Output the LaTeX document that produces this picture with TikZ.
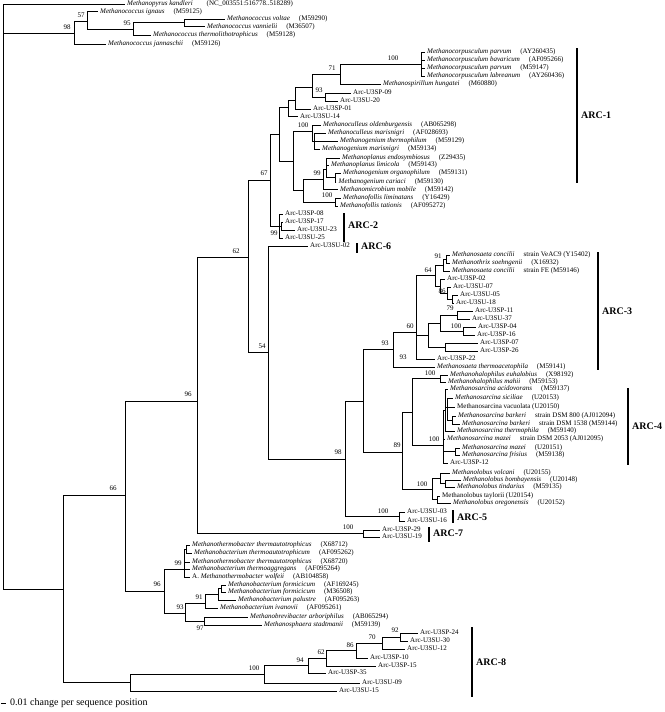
\documentclass[tikz,border=0pt]{standalone}
\usepackage{fontspec}
\setmainfont{Liberation Serif}
\newcounter{bsc}
\newcommand\spc[2]{\textit{#1}\hspace{9pt}(#2)}
\begin{document}
\begin{tikzpicture}[x=1pt,y=-1pt,
  br/.style={line width=0.8pt,line cap=rect},
  leaf/.style={anchor=west,inner sep=0pt,font=\fontsize{7}{8}\selectfont,text height=4.8pt,text depth=1.4pt},
  bsl/.style={inner sep=0pt,font=\fontsize{7}{8}\selectfont},
  arcbar/.style={line width=2pt},
  arclab/.style={anchor=west,inner sep=0pt,font=\fontsize{10}{11}\selectfont\bfseries}]
\newcommand\vb[3]{\draw[br] (#1,#2) -- (#1,#3);}
\newcommand\hb[3]{\draw[br] (#1,#3) -- (#2,#3);}
\newcommand\leafx[5]{\node[leaf] (#1) at (#3,#4) {#5}; \draw[br] (#2,#4) -- ([xshift=-2.5pt]#1.west);}
\newcommand\bsv[3]{\stepcounter{bsc}\node[bsl] (bs\thebsc) at (#1,#2) {#3};}
\newcommand\arc[5]{\draw[arcbar] (#2,#3) -- (#2,#4); \node[arclab] (#1) at (#2+4,#5) {#1};}
\path[use as bounding box] (0,0) rectangle (664,712);
% root
\vb{3}{4}{589}
\leafx{mka}{3}{127}{4}{\textit{Methanopyrus kandleri}\hspace{14pt}(NC\_003551:516778..518289)}
\hb{3}{74}{33}\bsv{67}{27}{98}
\vb{74}{21}{44}
\hb{74}{87}{21}\bsv{81}{15}{57}
\vb{87}{11.5}{29}
\leafx{mig}{87}{100}{11.5}{\spc{Methanococcus ignaus}{M59125}}
\hb{87}{133}{29}\bsv{127}{23}{95}
\vb{133}{22.5}{35}
\hb{133}{184}{22.5}
\vb{184}{19}{26.5}
\leafx{mvo}{184}{227}{19}{\spc{Methanococcus voltae}{M59290}}
\leafx{mva}{184}{207}{26.5}{\spc{Methanococcus vannielii}{M36507}}
\leafx{mth}{133}{153}{35}{\spc{Methanococcus thermolithotrophicus}{M59128}}
\leafx{mja}{74}{108}{44}{\spc{Methanococcus jannaschii}{M59126}}
% main clade
\hb{3}{63}{589}
\vb{63}{495}{682.5}
\hb{63}{125}{495}\bsv{113}{488}{66}
\vb{125}{401}{591}
\hb{125}{197}{401}\bsv{188}{394}{96}
\vb{197}{257}{533.5}
\hb{197}{248}{257}\bsv{236}{251}{62}
\vb{248}{180}{352}
\hb{248}{270}{180}\bsv{264}{173}{67}
\vb{270}{134}{226}
\hb{270}{279}{134}
\vb{279}{107}{161}
\hb{279}{288}{107}
\vb{288}{100}{116.5}
\leafx{u14}{288}{300}{116.5}{Arc-U3SU-14}
\hb{288}{295}{100}
\vb{295}{87}{109}
\leafx{p01}{295}{313}{109}{Arc-U3SP-01}
\hb{295}{312}{87}
\vb{312}{74}{97}
\hb{312}{325}{97}\bsv{319}{90}{93}
\vb{325}{93}{101}
\leafx{p09}{325}{353}{93}{Arc-U3SP-09}
\leafx{u20}{325}{340}{101}{Arc-U3SU-20}
\hb{312}{340}{74}\bsv{332}{68}{71}
\vb{340}{64}{84}
\leafx{mhu}{340}{383}{84}{\spc{Methanospirillum hungatei}{M60880}}
\hb{340}{421}{64}\bsv{393}{58}{100}
\vb{421}{52}{76}
\leafx{cp1}{421}{427}{52}{\spc{Methanocorpusculum parvum}{AY260435}}
\leafx{cba}{421}{427}{60}{\spc{Methanocorpusculum bavaricum}{AF095266}}
\leafx{cp2}{421}{427}{68}{\spc{Methanocorpusculum parvum}{M59147}}
\leafx{cla}{421}{427}{76}{\spc{Methanocorpusculum labreanum}{AY260436}}
\hb{279}{293}{161}
\vb{293}{131}{190.5}
\hb{293}{312}{131}\bsv{303}{125}{100}
\vb{312}{125}{141}
\leafx{mol}{312}{323}{125}{\spc{Methanoculleus oldenburgensis}{AB065298}}
\hb{312}{314}{141}
\vb{314}{133}{149}
\leafx{mcm}{314}{328}{133}{\spc{Methanoculleus marisnigri}{AF028693}}
\leafx{mgt}{314}{340}{141}{\spc{Methanogenium thermophilum}{M59129}}
\leafx{mgm}{314}{322}{149}{\spc{Methanogenium marisnigri}{M59134}}
\hb{293}{303}{190.5}
\vb{303}{179}{202}
\hb{303}{323}{179}\bsv{317}{173}{99}
\vb{323}{169.5}{189.5}
\hb{323}{326}{169.5}
\vb{326}{158}{177.5}
\leafx{mpe}{326}{342}{158}{\spc{Methanoplanus endosymbiosus}{Z29435}}
\leafx{mpl}{326}{331}{165}{\spc{Methanoplanus limicola}{M59143}}
\hb{326}{335}{177.5}
\vb{335}{173}{182}
\leafx{mgo}{335}{343}{173}{\spc{Methanogenium organophilum}{M59131}}
\leafx{mgc}{335}{338.5}{182}{\spc{Methanogenium cariaci}{M59130}}
\leafx{mmo}{323}{340}{189.5}{\spc{Methanomicrobium mobile}{M59142}}
\hb{303}{335}{202}\bsv{327}{195}{100}
\vb{335}{198}{206}
\leafx{mfl}{335}{343}{198}{\spc{Methanofollis liminatans}{Y16429}}
\leafx{mft}{335}{340}{206}{\spc{Methanofollis tationis}{AF095272}}
% ARC-2
\hb{270}{279}{226}\bsv{274}{233}{99}
\vb{279}{214}{238}
\leafx{p08}{279}{285}{214}{Arc-U3SP-08}
\hb{279}{281}{226}
\vb{281}{222}{230}
\leafx{p17}{281}{285}{222}{Arc-U3SP-17}
\leafx{u23}{281}{297}{230}{Arc-U3SU-23}
\leafx{u25}{279}{285}{238}{Arc-U3SU-25}
% 54
\hb{248}{268}{352}\bsv{262}{346}{54}
\vb{268}{246}{459}
\leafx{u02}{268}{310}{246}{Arc-U3SU-02}
\hb{268}{345}{459}\bsv{338}{452}{98}
\vb{345}{401}{516.5}
\hb{345}{363}{401}
\vb{363}{349}{452}
\hb{363}{393}{349}\bsv{385}{343}{93}
\vb{393}{332}{367}
\leafx{mta}{393}{437}{367}{\spc{Methanosaeta thermoacetophila}{M59141}}
\hb{393}{416}{332}\bsv{410}{326}{60}
\vb{416}{275.5}{359}
\leafx{p22}{416}{437}{359}{Arc-U3SP-22}\bsv{403}{357}{93}
\hb{416}{435}{275.5}\bsv{428}{270}{64}
\vb{435}{265}{286}
\hb{435}{443}{265}
\vb{443}{259}{271}
\hb{443}{446}{259}\bsv{438}{256}{91}
\vb{446}{255}{263}
\leafx{sc1}{446}{452}{255}{\textit{Methanosaeta concilii}\hspace{9pt}strain VeAC9 (Y15402)}
\leafx{sso}{446}{452}{263}{\spc{Methanothrix soehngenii}{X16932}}
\leafx{sc2}{443}{452}{271}{\textit{Methanosaeta concilii}\hspace{9pt}strain FE (M59146)}
\hb{435}{440}{286}
\vb{440}{279}{293}
\leafx{p02}{440}{447}{279}{Arc-U3SP-02}
\hb{440}{447}{293}\bsv{442}{291}{86}
\vb{447}{287}{299}
\leafx{u07}{447}{453}{287}{Arc-U3SU-07}
\hb{447}{452}{299}\bsv{450}{308}{79}
\vb{452}{295}{303}
\leafx{u05}{452}{460}{295}{Arc-U3SU-05}
\leafx{u18}{452}{456}{303}{Arc-U3SU-18}
\hb{416}{428}{335}
\vb{428}{323}{347}
\hb{428}{440}{323}
\vb{440}{315}{331}
\hb{440}{457}{315}
\vb{457}{311}{319}
\leafx{p11}{457}{475}{311}{Arc-U3SP-11}
\leafx{u37}{457}{472}{319}{Arc-U3SU-37}
\hb{440}{463}{331}\bsv{456}{326}{100}
\vb{463}{327}{335}
\leafx{p04}{463}{478}{327}{Arc-U3SP-04}
\leafx{p16}{463}{477}{335}{Arc-U3SP-16}
\hb{428}{445}{347}
\vb{445}{343}{351}
\leafx{p07}{445}{480}{343}{Arc-U3SP-07}
\leafx{p26}{445}{480}{351}{Arc-U3SP-26}
% Methanosarcinaceae
\hb{363}{402}{452}\bsv{397}{445}{89}
\vb{402}{412}{489}
\hb{402}{412}{412}
\vb{412}{378.5}{445}
\hb{412}{440}{378.5}\bsv{430}{373}{100}
\vb{440}{375}{382}
\leafx{heu}{440}{450}{375}{\spc{Methanohalophilus euhalobius}{X98192}}
\leafx{hma}{440}{448}{382}{\spc{Methanohalophilus mahii}{M59153}}
\hb{412}{443}{445}\bsv{434}{439}{100}
\vb{443}{410}{463}
\hb{443}{445}{410}
\vb{445}{389}{431}
\leafx{sac}{445}{450}{389}{\spc{Methanosarcina acidovorans}{M59137}}
\hb{445}{447}{407}
\vb{447}{398}{420}
\leafx{ssi}{447}{455}{398}{\spc{Methanosarcina siciliae}{U20153}}
\leafx{sva}{447}{457}{407}{Methanosarcina vacuolata (U20150)}
\hb{447}{452}{420}
\vb{452}{416}{424}
\leafx{sb1}{452}{458}{416}{\textit{Methanosarcina barkeri}\hspace{9pt}strain DSM 800 (AJ012094)}
\leafx{sb2}{452}{462}{424}{\textit{Methanosarcina barkeri}\hspace{9pt}strain DSM 1538 (M59144)}
\leafx{sth}{445}{457}{431}{\spc{Methanosarcina thermophila}{M59140}}
\leafx{sm1}{443}{447}{439}{\textit{Methanosarcina mazei}\hspace{9pt}strain DSM 2053 (AJ012095)}
\hb{443}{455}{451.5}
\vb{455}{448}{455}
\leafx{sm2}{455}{462}{448}{\spc{Methanosarcina mazei}{U20151}}
\leafx{sfr}{455}{462}{455}{\spc{Methanosarcina frisius}{M59138}}
\leafx{p12}{443}{450}{463}{Arc-U3SP-12}
\hb{402}{432}{489}\bsv{422}{484}{100}
\vb{432}{478}{499.5}
\hb{432}{440}{478}
\vb{440}{473}{483.5}
\leafx{lvo}{440}{452}{473}{\spc{Methanolobus volcani}{U20155}}
\hb{440}{445}{483.5}
\vb{445}{480}{487}
\leafx{lbo}{445}{463}{480}{\spc{Methanolobus bombayensis}{U20148}}
\leafx{lti}{445}{457}{487}{\spc{Methanolobus tindarius}{M59135}}
\hb{432}{437}{499.5}
\vb{437}{496}{503}
\leafx{lta}{437}{442}{496}{Methanolobus taylorii (U20154)}
\leafx{lor}{437}{453}{503}{\spc{Methanolobus oregonensis}{U20152}}
% ARC-5
\hb{345}{399}{516.5}\bsv{383}{511}{100}
\vb{399}{512}{521}
\leafx{u03}{399}{407}{512}{Arc-U3SU-03}
\leafx{u16}{399}{407}{521}{Arc-U3SU-16}
% ARC-7
\hb{197}{363}{533.5}\bsv{348}{527}{100}
\vb{363}{530}{537}
\leafx{p29}{363}{382}{530}{Arc-U3SP-29}
\leafx{u19}{363}{382}{537}{Arc-U3SU-19}
% Methanobacteriales
\hb{125}{164}{591}\bsv{157}{584}{96}
\vb{164}{569}{613}
\hb{164}{184}{569}\bsv{178}{563}{99}
\vb{184}{549}{577}
\hb{184}{186}{549}
\vb{186}{545}{553}
\leafx{bt1}{186}{192}{545}{\spc{Methanothermobacter thermautotrophicus}{X68712}}
\leafx{bt2}{186}{194}{553}{\spc{Methanobacterium thermoautotrophicum}{AF095262}}
\leafx{bt3}{184}{192}{562}{\spc{Methanothermobacter thermautotrophicus}{X68720}}
\leafx{bta}{184}{192}{569}{\spc{Methanobacterium thermoaggregans}{AF095264}}
\leafx{bwo}{184}{192}{577}{A. \spc{Methanothermobacter wolfeii}{AB104858}}
\hb{164}{185}{613}\bsv{180}{607}{93}
\vb{185}{603}{621}
\hb{185}{205}{603}\bsv{199}{597}{91}
\vb{205}{594}{608}
\hb{205}{218}{594}
\vb{218}{588}{600}
\hb{218}{221}{588}
\vb{221}{585}{592}
\leafx{bf1}{221}{228}{585}{\spc{Methanobacterium formicicum}{AF169245}}
\leafx{bf2}{221}{228}{592}{\spc{Methanobacterium formicicum}{M36508}}
\leafx{bpa}{218}{238}{600}{\spc{Methanobacterium palustre}{AF095263}}
\leafx{biv}{205}{220}{608}{\spc{Methanobacterium ivanovii}{AF095261}}
\hb{185}{204}{621}\bsv{200}{628}{97}
\vb{204}{617}{625}
\leafx{bar}{204}{250}{617}{\spc{Methanobrevibacter arboriphilus}{AB065294}}
\leafx{bst}{204}{264}{625}{\spc{Methanosphaera stadtmanii}{M59139}}
% ARC-8
\hb{63}{130}{682.5}
\vb{130}{674}{691}
\leafx{u15}{130}{339}{691}{Arc-U3SU-15}
\hb{130}{264}{674}\bsv{254}{668}{100}
\vb{264}{665.5}{683}
\leafx{u09}{264}{362}{683}{Arc-U3SU-09}
\hb{264}{308}{665.5}\bsv{300}{660}{94}
\vb{308}{658}{673}
\leafx{p35}{308}{328}{673}{Arc-U3SP-35}
\hb{308}{326}{658}\bsv{321}{652}{62}
\vb{326}{650.5}{666}
\leafx{p15}{326}{378}{666}{Arc-U3SP-15}
\hb{326}{356}{650.5}\bsv{350}{645}{86}
\vb{356}{643}{658}
\leafx{p10}{356}{370}{658}{Arc-U3SP-10}
\hb{356}{382}{643}\bsv{372}{637}{70}
\vb{382}{637}{649}
\leafx{u12}{382}{407}{649}{Arc-U3SU-12}
\hb{382}{400}{637}\bsv{395}{630}{92}
\vb{400}{633}{641}
\leafx{p24}{400}{420}{633}{Arc-U3SP-24}
\leafx{u30}{400}{410}{641}{Arc-U3SU-30}
% clade bars
\arc{ARC-1}{577}{48}{183}{115}
\arc{ARC-2}{344}{213}{242}{225}
\arc{ARC-6}{357}{243}{253}{246}
\arc{ARC-3}{598}{252}{370}{311}
\arc{ARC-4}{628}{388}{465}{426}
\arc{ARC-5}{453}{510}{523}{517}
\arc{ARC-7}{429}{527}{542}{533}
\arc{ARC-8}{472}{627}{697}{662}
% scale
\coordinate (s0) at (1,703);
\coordinate (s1) at (6,703);
\draw[line width=0.8pt] (s0) -- (s1);
\node[anchor=west,inner sep=0pt,font=\fontsize{10}{11}\selectfont] (scl) at (10,703) {0.01 change per sequence position};
\end{tikzpicture}
\end{document}
